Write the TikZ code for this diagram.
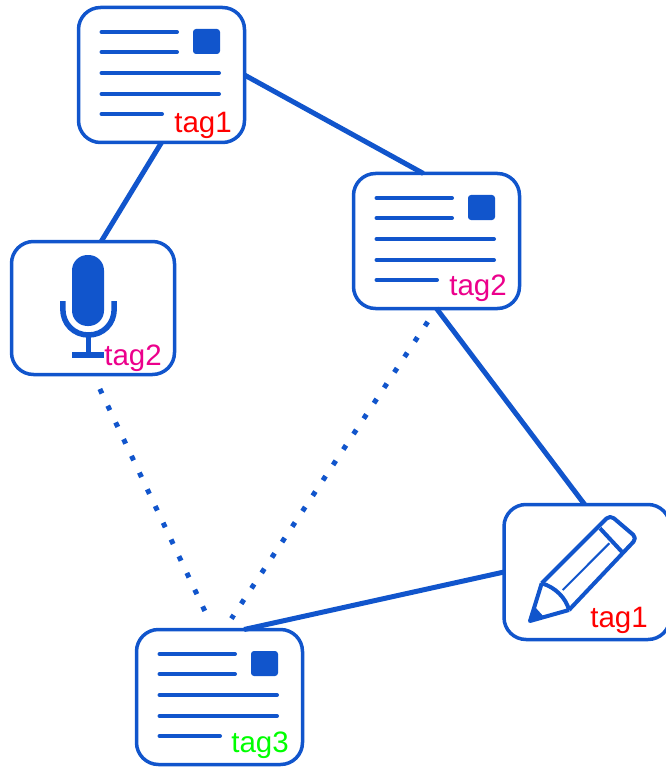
\documentclass[tikz,border=0pt]{standalone}
\usepackage{fontspec}
\setmainfont{Liberation Sans}
\definecolor{iconblue}{HTML}{1155CC}
\tikzstyle{card}=[
	rectangle,
	draw=iconblue,
	line width=3.5pt,
	fill=white,
	rounded corners=22pt,
	inner sep=0pt,
	outer sep=0pt,
	minimum width=166pt,
	minimum height=135pt
]
\tikzstyle{tag}=[
	anchor=base east,
	inner sep=0pt,
	font=\fontsize{29.5}{30}\selectfont
]
\tikzstyle{link}=[
	iconblue,
	line width=5pt
]
\tikzstyle{hint}=[
	iconblue,
	line width=5pt,
	dash pattern=on 5pt off 13.5pt
]
\tikzset{
	docicon/.pic={
		\foreach \ya/\xb in {-43/15.5,-23/15.5,-2/57.5,19/57.5,39/0.5}
			\draw [iconblue, line width=4pt, line cap=round] (-60,\ya) -- (\xb,\ya);
		\fill [iconblue, rounded corners=3pt] (31.5,-46) rectangle (58.5,-21);
	}
}

\begin{document}
\begin{tikzpicture}[x=1pt,y=-1pt]
\useasboundingbox (0,0) rectangle (665,767);
\node [card] (DocTop) at (161.5,75) {};
\node [card] (DocRight) at (436.5,241) {};
\node [card, minimum width=163pt, minimum height=133pt] (Mic) at (93,308) {};
\node [card] (Pencil) at (587,572) {};
\node [card] (DocBottom) at (219.5,697) {};
% solid links
\draw [link] (DocTop.east) -- (DocRight.101);
\draw [link] (DocTop.south) -- (Mic.83);
\draw [link] (DocRight.south) -- (Pencil.92);
\draw [link] (Pencil.west) -- (DocBottom.70);
% dotted links
\draw [hint, shorten <=16pt, shorten >=13pt] (Mic.south) -- (DocBottom.95);
\draw [hint, shorten <=16pt, shorten >=13pt] (DocRight.south) -- (DocBottom.86);
% icons
\pic at (DocTop.center) {docicon};
\pic at (DocRight.center) {docicon};
\pic at (DocBottom.center) {docicon};
\fill [iconblue, rounded corners=15.5pt] (72,255) rectangle (104,326);
\draw [iconblue, line width=5.5pt] (62.8,301) -- (62.8,309) .. controls (62.8,324) and (74,335) .. (88.5,335)
	.. controls (103,335) and (114.2,324) .. (114.2,309) -- (114.2,301);
\draw [iconblue, line width=4.5pt] (88.5,335) -- (88.5,355);
\fill [iconblue] (72,352) rectangle (104,358);
\draw [iconblue, line width=4pt, line join=round, rounded corners=5pt] (541.7,583.3) -- (610,515) -- (637,538) -- (569,610);
\draw [iconblue, line width=4pt, line join=round] (541.7,583.3) -- (530,621) -- (569,610);
\draw [iconblue, line width=4pt] (541.7,583.3) .. controls (555,587) and (566,598) .. (569,610);
\draw [iconblue, line width=4pt] (600,528.3) -- (623.3,553.3);
\draw [iconblue, line width=2pt] (562.7,590) -- (609.3,543.3);
\fill [iconblue, line join=round] (529,622) -- (535,607) -- (544,617) -- cycle;
% tags
\node [tag, red] (TagTop) at (232,133) {tag1};
\node [tag, magenta] (TagRight) at (507,295) {tag2};
\node [tag, magenta] (TagMic) at (162,365) {tag2};
\node [tag, red] (TagPencil) at (648,627) {tag1};
\node [tag, green] (TagBottom) at (289,752) {tag3};
\end{tikzpicture}
\end{document}
